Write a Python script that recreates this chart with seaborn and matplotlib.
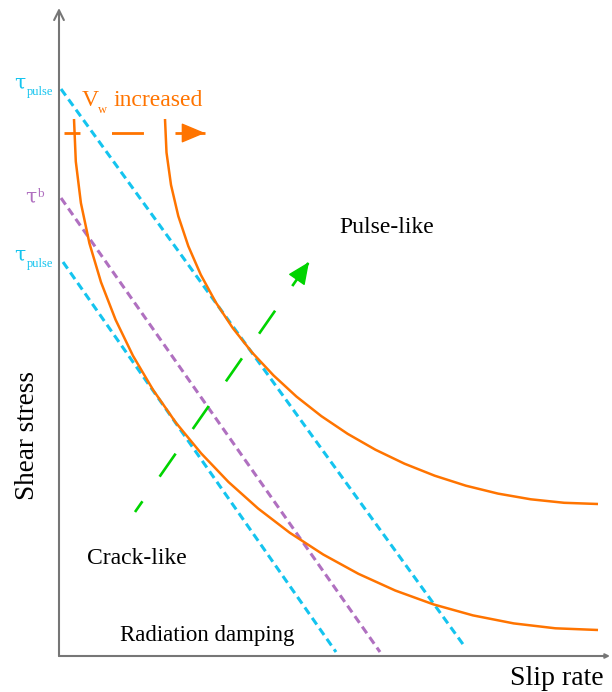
import matplotlib
matplotlib.use("Agg")
import matplotlib.pyplot as plt
import seaborn as sns

# ---- data (schematic units: origin at the axes corner) ----
curve_low_x = [15, 16.8, 21.9, 30.4, 42.0, 56.6, 74.0, 94.2, 116.9, 142.1, 169.5,
               199.1, 230.7, 264.2, 299.4, 336.2, 374.5, 414.0, 454.7, 496.4, 539]
curve_low_y = [537, 494.5, 453.0, 412.8, 373.8, 336.2, 300.2, 265.9, 233.3, 202.7, 174.0,
               147.5, 123.3, 101.5, 82.2, 65.5, 51.6, 40.6, 32.6, 27.7, 26]

curve_high_x = [106, 107.5, 112.0, 119.3, 129.3, 141.8, 156.7, 173.8, 193.1, 214.4, 237.5,
                262.3, 288.6, 316.4, 345.5, 375.7, 406.9, 439.0, 471.8, 505.2, 539]
curve_high_y = [537, 503.5, 471.1, 439.9, 409.9, 381.2, 353.8, 327.9, 303.5, 280.7, 259.4,
                239.9, 222.2, 206.3, 192.3, 180.3, 170.3, 162.4, 156.7, 153.2, 152]

tau_pulse_hi_x = [2, 406]
tau_pulse_hi_y = [567, 9]
tau_b_x = [2, 321]
tau_b_y = [458, 4]
tau_pulse_lo_x = [4, 277]
tau_pulse_lo_y = [394, 4]

vw_arrow_x = [5, 146]
vw_arrow_y = [523, 523]
green_arrow_x = [76, 250]
green_arrow_y = [144, 394]

ORANGE = "#ff7400"
CYAN = "#14c4ef"
PURPLE = "#b070c0"
GREEN = "#00d400"
GRAY = "#767676"

sns.set_theme(style="white")
plt.rcParams["font.family"] = ["Liberation Serif", "DejaVu Serif"]
plt.rcParams["lines.scale_dashes"] = False

fig = plt.figure(figsize=(6.12, 6.92), dpi=100)
ax = fig.add_axes([59 / 612, 36 / 692, 551 / 612, 648 / 692])
ax.set_xlim(0, 551)
ax.set_ylim(0, 648)
ax.axis("off")


def line(x, y, color, lw, dashes=None):
    sns.lineplot(x=x, y=y, ax=ax, color=color, lw=lw, sort=False,
                 estimator=None, legend=False)
    ln = ax.lines[-1]
    ln.set_clip_on(False)
    ln.set_solid_capstyle("butt")
    ln.set_dash_capstyle("butt")
    ln.set_solid_joinstyle("round")
    if dashes is not None:
        ln.set_dashes(dashes)
    return ln


# dashed lines
dash = (5.8, 3.4)
line(tau_pulse_hi_x, tau_pulse_hi_y, CYAN, 2.2, dash)
line(tau_b_x, tau_b_y, PURPLE, 2.2, dash)
line(tau_pulse_lo_x, tau_pulse_lo_y, CYAN, 2.2, dash)

# orange curves
line(curve_low_x, curve_low_y, ORANGE, 1.8)
line(curve_high_x, curve_high_y, ORANGE, 1.8)

# orange dashed arrow
ln = line(vw_arrow_x, vw_arrow_y, ORANGE, 2.0)
ln.set_linestyle((11.5, (23.0, 22.7)))
ax.annotate("", xy=(vw_arrow_x[1], vw_arrow_y[1]),
            xytext=(vw_arrow_x[1] - 6, vw_arrow_y[1]),
            arrowprops=dict(arrowstyle="-|>,head_length=1.0,head_width=0.42",
                            mutation_scale=15.0, color=ORANGE, lw=1.0,
                            shrinkA=0, shrinkB=0))

# green dashed arrow
ln = line(green_arrow_x, green_arrow_y, GREEN, 1.9)
ln.set_linestyle((10.8, (20.2, 21.6)))
dx = green_arrow_x[1] - green_arrow_x[0]
dy = green_arrow_y[1] - green_arrow_y[0]
ax.annotate("", xy=(green_arrow_x[1], green_arrow_y[1]),
            xytext=(green_arrow_x[1] - dx * 0.03, green_arrow_y[1] - dy * 0.03),
            arrowprops=dict(arrowstyle="-|>,head_length=1.0,head_width=0.45",
                            mutation_scale=14.0, color=GREEN, lw=1.0,
                            shrinkA=0, shrinkB=0))

# axes with arrows
ax.annotate("", xy=(0, 1), xycoords="axes fraction", xytext=(0, 0),
            arrowprops=dict(arrowstyle="->,head_length=0.7,head_width=0.35",
                            mutation_scale=10, color=GRAY, lw=1.5,
                            shrinkA=0, shrinkB=0))
ax.annotate("", xy=(1, 0), xycoords="axes fraction", xytext=(0, 0),
            arrowprops=dict(arrowstyle="->,head_length=0.5,head_width=0.25",
                            mutation_scale=5, color=GRAY, lw=1.5,
                            shrinkA=0, shrinkB=0))

# labels
kw = dict(va="baseline", ha="left", clip_on=False)
ax.text(280, 423, "Pulse-like", fontsize=17, color="black", **kw)
ax.text(28, 92, "Crack-like", fontsize=17, color="black", **kw)
ax.text(61, 15, "Radiation damping", fontsize=16.5, color="black", **kw)
ax.text(451, -29, "Slip rate", fontsize=20, color="black", **kw)
ax.text(-32, 220, "Shear stress", fontsize=19.5, color="black", rotation=90,
        ha="center", va="center", clip_on=False)

tau_font = ["DejaVu Serif"]
ax.text(-45, 567, "τ", fontsize=14.5, color=CYAN, family=tau_font, **kw)
ax.text(-32, 560.5, "pulse", fontsize=9, color=CYAN, **kw)
ax.text(-34, 453, "τ", fontsize=14.5, color=PURPLE, family=tau_font, **kw)
ax.text(-21.5, 459, "b", fontsize=9.5, color=PURPLE, **kw)
ax.text(-45, 395.5, "τ", fontsize=14.5, color=CYAN, family=tau_font, **kw)
ax.text(-32, 389, "pulse", fontsize=9, color=CYAN, **kw)

ax.text(23, 550, "V", fontsize=17, color=ORANGE, **kw)
ax.text(39, 543, "w", fontsize=9, color=ORANGE, **kw)
ax.text(55, 550, "increased", fontsize=17, color=ORANGE, **kw)

fig.savefig("out.png", dpi=100)
